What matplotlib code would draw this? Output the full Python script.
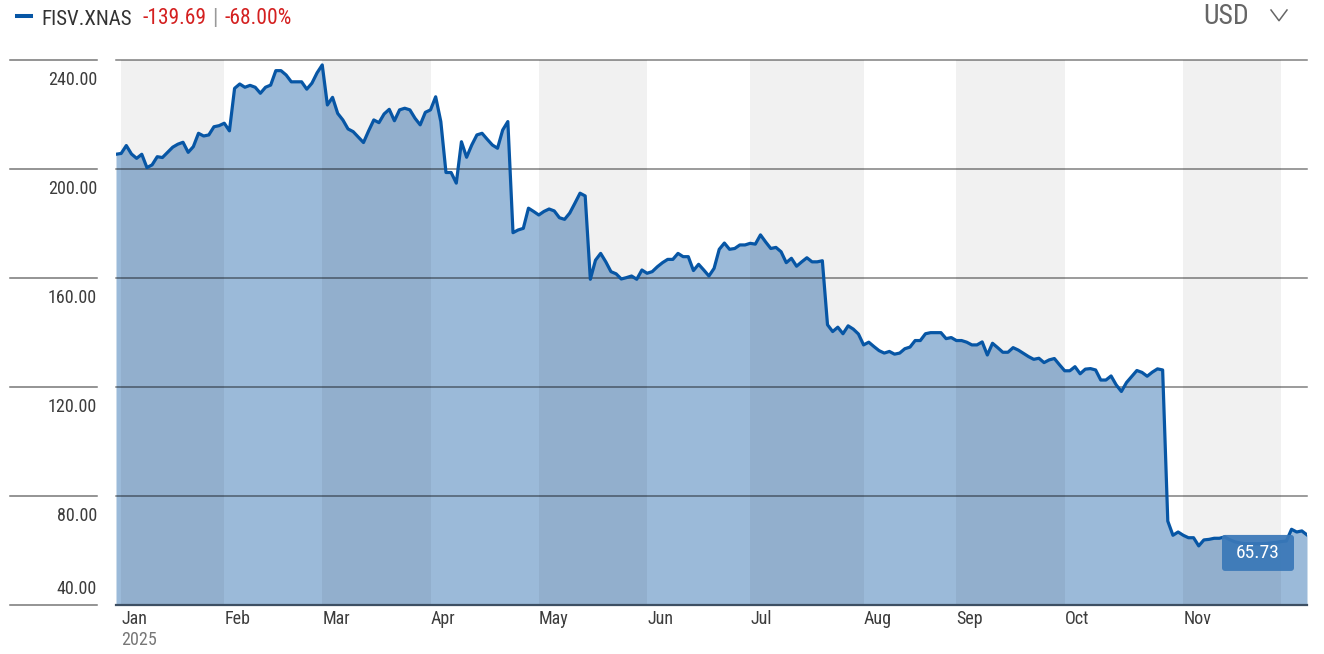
import matplotlib
matplotlib.use("Agg")
import matplotlib.pyplot as plt
import numpy as np
from matplotlib.lines import Line2D
from matplotlib.patches import FancyBboxPatch
from matplotlib.transforms import blended_transform_factory, IdentityTransform

plt.rcParams['font.family'] = ['Roboto Condensed', 'Liberation Sans Narrow', 'Roboto', 'DejaVu Sans']

ticker = "FISV.XNAS"
change = "-139.69"
change_pct = "-68.00%"
currency = "USD"
year_label = "2025"

months = ["Jan", "Feb", "Mar", "Apr", "May", "Jun", "Jul", "Aug", "Sep", "Oct", "Nov"]
# trading-day index where each month starts (last entry = start of Dec)
month_start = [1, 21, 40, 61, 82, 103, 123, 145, 163, 184, 207, 226]
yticks = [40, 80, 120, 160, 200, 240]

# daily close, 31 Dec 2024 .. early Dec 2025
price = [
    # Dec 31 + Jan
    205.5, 205.8, 208.7, 205.6, 204.0, 205.5, 200.6, 201.6, 204.6, 204.3,
    206.2, 208.1, 209.2, 209.9, 206.2, 208.3, 213.2, 212.2, 212.6, 215.6, 216.0,
    # Feb
    216.9, 214.1, 229.7, 231.3, 230.1, 230.8, 230.1, 227.9, 230.1, 230.9,
    236.2, 236.2, 234.6, 232.1, 232.1, 232.1, 229.4, 231.6, 235.4,
    # Mar
    238.3, 223.6, 226.4, 220.5, 218.1, 214.8, 213.8, 211.8, 209.8, 214.1,
    218.1, 217.1, 220.3, 222.0, 217.8, 221.8, 222.4, 221.8, 218.7, 216.3, 220.9,
    # Apr
    221.8, 226.6, 217.5, 198.8, 198.8, 194.9, 210.1, 204.4, 208.9, 212.6,
    213.2, 211.0, 208.9, 207.7, 214.4, 217.5, 176.7, 177.7, 178.3, 185.7, 184.5,
    # May
    183.2, 184.5, 185.4, 184.7, 182.2, 181.6, 183.9, 187.5, 191.2, 190.2,
    159.6, 166.6, 169.1, 166.0, 162.4, 161.6, 159.7, 160.2, 160.8, 159.6, 163.0,
    # Jun
    161.8, 162.4, 164.2, 165.7, 166.9, 166.9, 169.1, 167.9, 167.9, 162.8,
    165.1, 163.0, 160.8, 163.6, 170.6, 172.9, 170.6, 170.9, 172.2, 172.2,
    # Jul
    172.8, 172.5, 175.9, 173.3, 170.9, 171.3, 169.7, 165.7, 167.3, 164.4, 166.0,
    167.5, 166.0, 166.0, 166.4, 142.9, 140.4, 142.0, 139.6, 142.5, 141.3, 139.5,
    # Aug
    135.5, 136.5, 134.9, 133.4, 132.5, 133.1, 132.1, 132.5, 134.1, 134.7,
    137.1, 137.1, 139.6, 140.0, 140.0, 140.0, 137.8, 138.2,
    # Sep
    137.1, 137.1, 136.5, 135.5, 135.5, 136.6, 131.8, 136.1, 134.5, 132.8, 132.8,
    134.5, 133.6, 132.4, 131.2, 130.2, 130.6, 129.0, 130.0, 130.5, 128.2,
    # Oct
    126.0, 126.0, 127.5, 124.9, 126.6, 126.8, 126.3, 122.6, 122.6, 124.1, 120.8,
    118.4, 121.7, 123.9, 126.1, 125.4, 124.0, 125.5, 126.7, 126.3, 70.8, 65.6, 66.8,
    # Nov
    65.6, 64.7, 64.7, 61.7, 63.9, 64.1, 64.5, 64.5, 65.0, 64.0,
    63.2, 62.8, 62.5, 62.5, 62.5, 62.5, 62.6, 62.8, 63.0,
    # Dec
    63.3, 63.5, 67.8, 66.8, 67.2, 65.73,
]

W, H = 1324, 654
fig = plt.figure(figsize=(W / 100, H / 100), dpi=100)
ax = fig.add_axes([116 / W, 1 - 605 / H, (1307 - 116) / W, (605 - 60.3) / H])

line_blue = '#0756a5'
x = np.arange(len(price))

ax.fill_between(x, price, yticks[0], color='#9bbad9', lw=0, zorder=1)
for i in range(0, len(months), 2):
    ax.axvspan(month_start[i], month_start[i + 1], color='black', alpha=0.055, lw=0, zorder=2)
for v in yticks[1:]:
    ax.axhline(v, color='black', alpha=0.5, lw=1.1, zorder=3, clip_on=False)
ax.axhline(yticks[0], color='#3d4f63', lw=1.6, zorder=3, clip_on=False)
ax.plot(x, price, color=line_blue, lw=2.3, zorder=4, solid_joinstyle='round')

ax.set_xlim(0, len(price) - 1)
ax.set_ylim(yticks[0], yticks[-1])
ax.axis('off')

# y labels with stubs on the left
trans = blended_transform_factory(fig.transFigure, ax.transData)
for v in yticks:
    fig.add_artist(Line2D([10 / W, 97 / W], [v, v], transform=trans, color='#777777', lw=1.1))
    dy = 8 if v == yticks[0] else -18
    ax.annotate(f"{v:.2f}", xy=(97 / W, v), xycoords=trans, xytext=(0, dy),
                textcoords='offset points', ha='right', va='baseline',
                fontsize=13, color='#3c3c3c', annotation_clip=False)

# month labels
for m, s in zip(months, month_start):
    ax.annotate(m, xy=(s, 0), xycoords=('data', 'axes fraction'), xytext=(0, -14),
                textcoords='offset points', ha='left', va='baseline',
                fontsize=13, color='#3c3c3c', annotation_clip=False)
ax.annotate(year_label, xy=(month_start[0], 0), xycoords=('data', 'axes fraction'),
            xytext=(0, -29), textcoords='offset points', ha='left', va='baseline',
            fontsize=13, color='#777777', annotation_clip=False)

# last value tag
fig.canvas.draw()
xe, ye = ax.transData.transform((x[-1], price[-1]))
box = FancyBboxPatch((xe - 85, ye - 36), 72, 36, boxstyle='round,pad=0,rounding_size=3',
                     transform=IdentityTransform(), fc='#3a78b8', ec='none', alpha=0.93,
                     zorder=5, clip_on=False)
ax.add_patch(box)
ax.text(xe - 49, ye - 18, f"{price[-1]:.2f}", transform=IdentityTransform(),
        ha='center', va='center', color='white', fontsize=14, zorder=6)

# header
fig.add_artist(Line2D([17 / W, 31 / W], [1 - 16.3 / H] * 2, color=line_blue, lw=2.9))
t1 = fig.text(41 / W, 1 - 25 / H, ticker, fontsize=15, color='#333333', va='baseline')
t2 = ax.annotate(change, xy=(1, 0), xycoords=t1, xytext=(8, 0), textcoords='offset points',
                 va='bottom', ha='left', fontsize=15.5, color='#d42020', annotation_clip=False)
t3 = ax.annotate("|", xy=(1, 0), xycoords=t2, xytext=(4, 0), textcoords='offset points',
                 va='bottom', ha='left', fontsize=15.5, color='#999999', annotation_clip=False)
ax.annotate(change_pct, xy=(1, 0), xycoords=t3, xytext=(5, 0), textcoords='offset points',
            va='bottom', ha='left', fontsize=15.5, color='#d42020', annotation_clip=False)

fig.text(1249 / W, 1 - 24 / H, currency, fontsize=20, color='#666666', ha='right', va='baseline')
fig.add_artist(Line2D([1271 / W, 1279 / W, 1287 / W], [1 - 10 / H, 1 - 20.7 / H, 1 - 10 / H],
                      color='#666666', lw=1.1))

fig.savefig('out.png', dpi=100)
